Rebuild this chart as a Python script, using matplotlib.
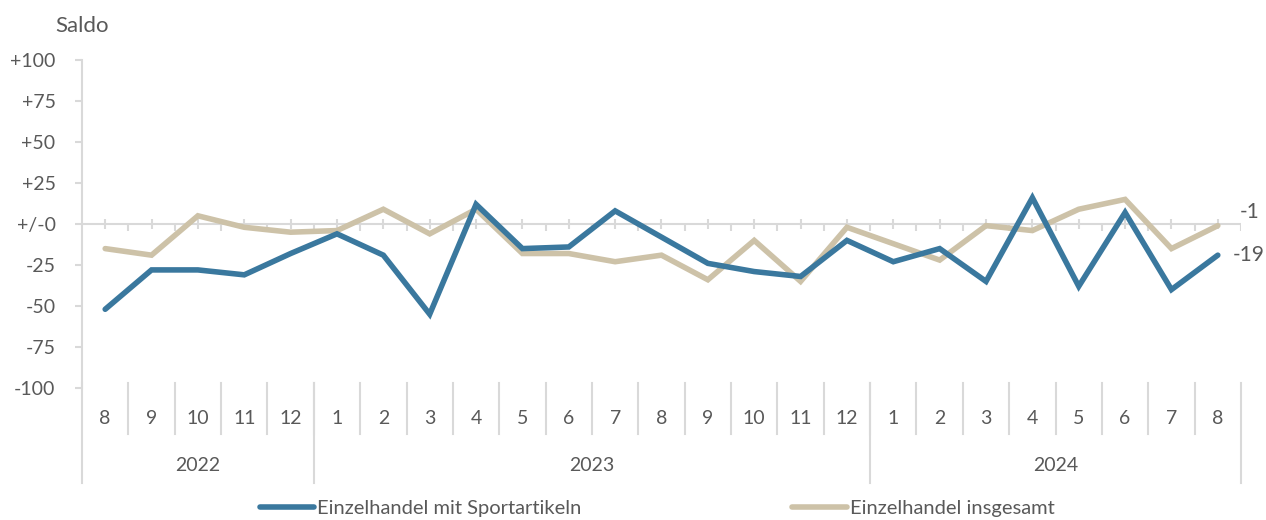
import matplotlib
matplotlib.use("Agg")
import matplotlib.pyplot as plt
import matplotlib.transforms as mtransforms

plt.rcParams['font.family'] = ['Lato', 'DejaVu Sans']

months = ["8", "9", "10", "11", "12", "1", "2", "3", "4", "5", "6", "7", "8",
          "9", "10", "11", "12", "1", "2", "3", "4", "5", "6", "7", "8"]
years = ["2022", "2023", "2024"]
year_counts = [5, 12, 8]
sport = [-52, -28, -28, -31, -18, -6, -19, -55, 12, -15, -14, 8, -8,
         -24, -29, -32, -10, -23, -15, -35, 16, -38, 7, -40, -19]
gesamt = [-15, -19, 5, -2, -5, -4, 9, -6, 9, -18, -18, -23, -19,
          -34, -10, -35, -2, -12, -22, -1, -4, 9, 15, -15, -1]
yticks = [100, 75, 50, 25, 0, -25, -50, -75, -100]
ylabels = ["+100", "+75", "+50", "+25", "+/-0", "-25", "-50", "-75", "-100"]

blue = "#3a789e"
beige = "#cdc2a8"
grey = "#d9d9d9"
txt = "#595959"
fs = 14

fig = plt.figure(figsize=(12.66, 5.2), dpi=100)
ax = fig.add_axes([82/1266, 1-388/520, (1241-82)/1266, 328/520])
n = len(months)
x = list(range(n))

ax.set_xlim(-0.5, n-0.5)
ax.set_ylim(-100, 100)

# zero line and its ticks
ax.axhline(0, color=grey, lw=1.5, zorder=1)
ax.vlines(x, -3, 3, color=grey, lw=1.5, zorder=1)
ax.vlines([i + 0.5 for i in range(n)], -4, 0, color=grey, lw=1.5, zorder=1)

ax.plot(x, gesamt, color=beige, lw=4, solid_capstyle='round', solid_joinstyle='miter',
        label="Einzelhandel insgesamt", zorder=3)
ax.plot(x, sport, color=blue, lw=4, solid_capstyle='round', solid_joinstyle='miter',
        label="Einzelhandel mit Sportartikeln", zorder=4)

ax.annotate("-1", (x[-1], gesamt[-1]), xytext=(16, 10), textcoords='offset points',
            fontsize=15, color=txt, va='center', ha='left')
ax.annotate("-19", (x[-1], sport[-1]), xytext=(11, 0), textcoords='offset points',
            fontsize=15, color=txt, va='center', ha='left')

ax.set_yticks(yticks)
ax.set_yticklabels(ylabels, fontsize=fs, color=txt)
ax.tick_params(axis='y', length=5, width=1.5, color=grey, pad=14)
ax.set_xticks([])
for s in ["top", "right", "bottom"]:
    ax.spines[s].set_visible(False)
ax.spines["left"].set_color(grey)
ax.spines["left"].set_linewidth(1.5)

# category axis below the plot
trans = mtransforms.blended_transform_factory(ax.transData, ax.transAxes)
for i, m in enumerate(months):
    ax.text(i, -0.092, m, transform=trans, ha='center', va='center', fontsize=fs, color=txt)
for i in range(1, n):
    ax.plot([i - 0.5, i - 0.5], [0.015, -0.14], transform=trans, color=grey, lw=1.5, clip_on=False)
start = 0
bounds = [-0.5]
for y, c in zip(years, year_counts):
    ax.text(start + (c - 1) / 2, -0.235, y, transform=trans, ha='center', va='center',
            fontsize=fs, color=txt)
    start += c
    bounds.append(start - 0.5)
for b in bounds:
    ax.plot([b, b], [0.015, -0.29], transform=trans, color=grey, lw=1.5, clip_on=False)

fig.text(55/1266, 1-26/520, "Saldo", fontsize=16, color=txt, va='center', ha='left')

h, l = ax.get_legend_handles_labels()
leg = fig.legend(h[::-1], l[::-1], loc='center left', bbox_to_anchor=(260/1266, 1-508/520),
                 ncol=2, frameon=False, fontsize=14.5, handlelength=2.7, handletextpad=0.15,
                 columnspacing=10.45, borderaxespad=0, borderpad=0)
for t in leg.get_texts():
    t.set_color(txt)

fig.savefig("out.png", dpi=100)
